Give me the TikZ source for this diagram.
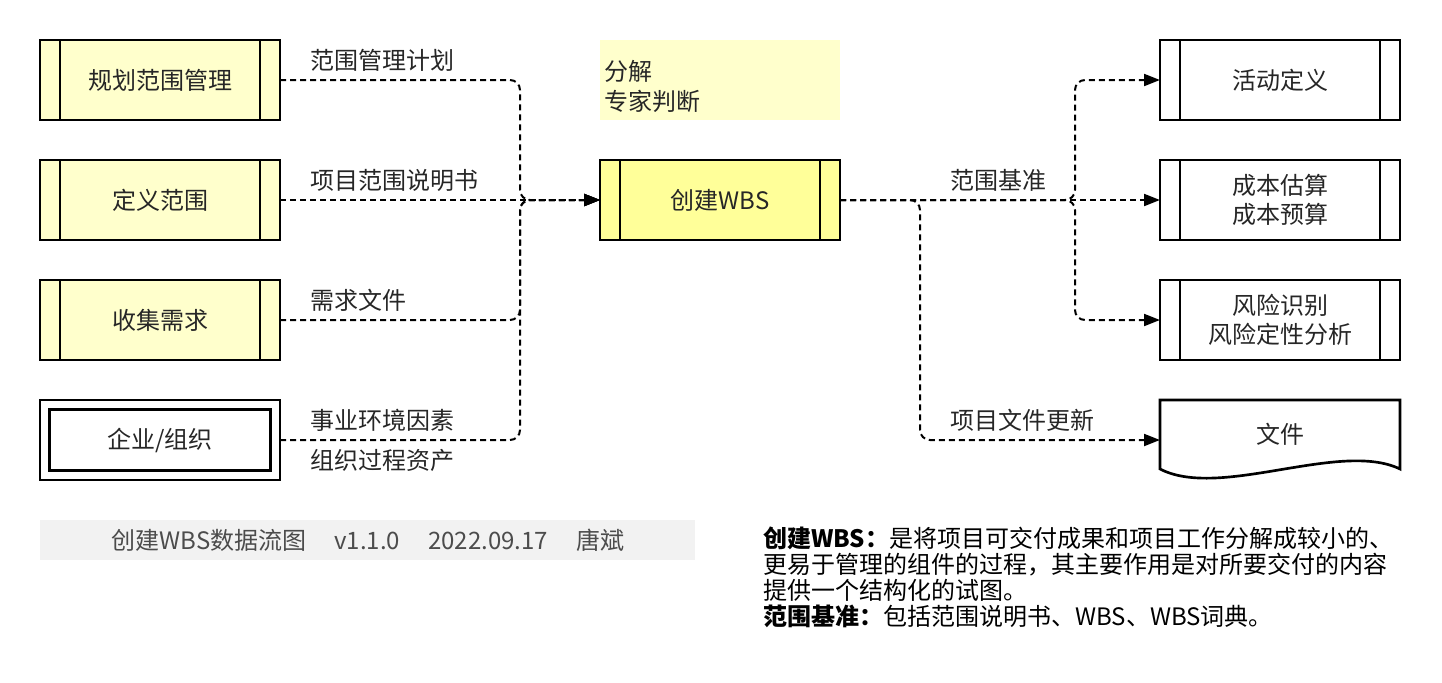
\documentclass[tikz,border=0pt]{standalone}
\usepackage{fontspec}
\setmainfont{Noto Sans CJK SC}
\usetikzlibrary{arrows.meta, positioning}

\definecolor{paleyellow}{HTML}{FFFFCC}
\definecolor{coreyellow}{HTML}{FFFF99}
\definecolor{capgray}{HTML}{F2F2F2}
\definecolor{inkgray}{HTML}{262626}

\begin{document}
\begin{tikzpicture}[
  node distance=30pt and 240pt,
  every node/.style={font=\fontsize{18pt}{21.5pt}\selectfont, text=inkgray},
  box/.style={rectangle, draw=black, line width=2pt, outer sep=0pt,
             minimum width=180pt, minimum height=60pt, align=center, inner sep=2pt},
  barbox/.style={box, path picture={
      \draw[line width=2pt]
        ([xshift=15pt]path picture bounding box.north west) -- ([xshift=15pt]path picture bounding box.south west)
        ([xshift=-15pt]path picture bounding box.north east) -- ([xshift=-15pt]path picture bounding box.south east);}},
  inbox/.style={barbox, fill=paleyellow},
  corebox/.style={barbox, fill=coreyellow},
  outbox/.style={barbox, fill=white},
  orgbox/.style={box, path picture={
      \draw[line width=2pt]
        ([shift={(7pt,-7pt)}]path picture bounding box.north west) rectangle
        ([shift={(-7pt,7pt)}]path picture bounding box.south east);}},
  docbox/.style={rectangle, outer sep=0pt, inner sep=0pt, minimum width=180pt, minimum height=60pt},
  notebox/.style={rectangle, fill=paleyellow, minimum width=180pt, minimum height=60pt,
             text width=174pt, align=left, inner sep=3pt},
  capbox/.style={rectangle, fill=capgray, minimum width=491.25pt, minimum height=30pt, text=black!70},
  desc/.style={align=left, inner sep=0pt, text=black, font=\fontsize{18pt}{19.5pt}\selectfont},
  uplbl/.style={anchor=west, xshift=18.75pt, yshift=15pt},
  dnlbl/.style={anchor=west, xshift=18.75pt, yshift=-15pt},
  flow/.style={line width=1.5pt, dash pattern=on 4.5pt off 3pt, rounded corners=7.5pt,
             -{Triangle[length=12pt, width=9pt]}}
]
\useasboundingbox (0,0) rectangle (1081.5pt,-511.5pt);

% inputs
\node[inbox] (plan) at (120pt,-60pt) {规划范围管理};
\node[inbox, below=of plan] (define) {定义范围};
\node[inbox, below=of define] (collect) {收集需求};
\node[orgbox, below=of collect] (org) {企业/组织};

% process
\node[corebox, right=of define] (wbs) {创建WBS};
\node[notebox, above=of wbs] (tools) {\rule{0pt}{25pt}分解\\[1pt]专家判断};

% outputs
\node[outbox, right=of wbs] (estimate) {成本估算\\成本预算};
\node[outbox, above=of estimate] (activity) {活动定义};
\node[outbox, below=of estimate] (risk) {风险识别\\风险定性分析};
\node[docbox, below=of risk] (docs) {\raisebox{10.5pt}{文件}};
\draw[line width=2pt] (docs.north west) -- (docs.north east) -- ([yshift=-51.75pt]docs.north east)
  .. controls +(-45pt,21.75pt) and +(45pt,-23.25pt) .. ([yshift=-51.75pt]docs.north west) -- cycle;

% flows in
\draw[flow] (plan.east) node[uplbl] {范围管理计划} -| ([xshift=-60pt]wbs.west) -- (wbs.west);
\draw[flow] (define.east) node[uplbl] {项目范围说明书} -- (wbs.west);
\draw[flow] (collect.east) node[uplbl] {需求文件} -| ([xshift=-60pt]wbs.west) -- (wbs.west);
\draw[flow] (org.east) node[uplbl] {事业环境因素} node[dnlbl] {组织过程资产}
  -| ([xshift=-60pt]wbs.west) -- (wbs.west);

% flows out
\draw[flow] (wbs.east) node[uplbl, xshift=60pt] {范围基准} -- (estimate.west);
\draw[flow] (wbs.east) -- ++(176.25pt,0) |- (activity.west);
\draw[flow] (wbs.east) -- ++(176.25pt,0) |- (risk.west);
\draw[flow] (wbs.east) -- ++(60pt,0) |- node[pos=0.5, uplbl] {项目文件更新} (docs.west);

% footer
\node[capbox, below right=30pt and 0pt of org.south west] (caption)
  {创建WBS数据流图\hspace{21pt}v1.1.0\hspace{21pt}2022.09.17\hspace{21pt}唐斌};
\node[desc, anchor=north west] (defn) at (572.25pt,-394.7pt) {%
  \textbf{创建WBS：}是将项目可交付成果和项目工作分解成较小的、\\
  更易于管理的组件的过程，其主要作用是对所要交付的内容\\
  提供一个结构化的试图。\\
  \textbf{范围基准：}包括范围说明书、WBS、WBS词典。};

\end{tikzpicture}
\end{document}
